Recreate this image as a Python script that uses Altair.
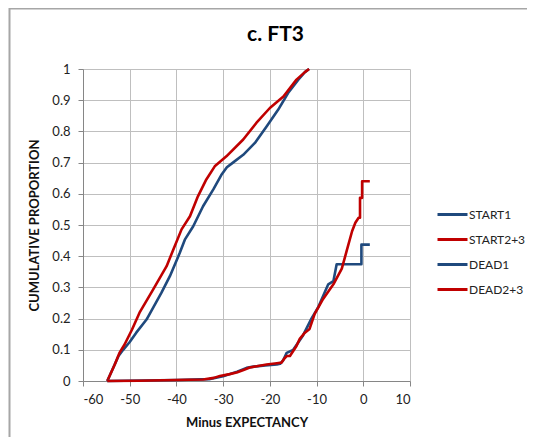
import altair as alt
import pandas as pd

# ---- data ----
start1_x = [-54.8, -53.6, -52.4, -51.4, -50.0, -48.6, -46.4, -43.2, -41.4, -39.3, -38.2, -36.4,
            -34.3, -32.1, -30.4, -29.2, -27.9, -25.7, -23.2, -20.7, -18.2, -16.1, -13.9, -12.5, -11.6]
start1_y = [0.0, 0.04, 0.08, 0.10, 0.125, 0.155, 0.197, 0.283, 0.336, 0.41, 0.453, 0.496,
            0.56, 0.614, 0.66, 0.685, 0.70, 0.725, 0.763, 0.816, 0.87, 0.923, 0.966, 0.99, 1.0]

start23_x = [-54.8, -53.2, -52.2, -51.1, -49.5, -47.9, -45.0, -42.1, -40.7, -38.9, -37.1, -35.4,
             -33.6, -31.8, -29.3, -25.7, -22.9, -20.0, -17.1, -14.3, -12.5, -11.6]
start23_y = [0.0, 0.053, 0.09, 0.117, 0.165, 0.219, 0.293, 0.368, 0.42, 0.486, 0.528, 0.592,
             0.646, 0.688, 0.72, 0.774, 0.827, 0.875, 0.912, 0.966, 0.99, 1.0]

dead1_x = [-54.8, -40.0, -33.0, -30.0, -27.0, -25.0, -23.5, -21.0, -18.5, -17.8, -17.2, -16.4,
           -15.0, -12.9, -11.1, -9.7, -7.5, -6.4, -5.7, -0.4, -0.4, 1.4]
dead1_y = [0.0, 0.003, 0.006, 0.015, 0.03, 0.042, 0.046, 0.05, 0.053, 0.055, 0.065, 0.09,
           0.10, 0.146, 0.20, 0.235, 0.31, 0.32, 0.374, 0.374, 0.437, 0.437]

dead23_x = [-54.8, -48.0, -40.0, -34.3, -32.0, -30.7, -28.6, -27.1, -25.5, -24.3, -22.5, -20.7,
            -18.5, -17.5, -17.0, -16.4, -15.7, -14.3, -13.6, -12.5, -11.5, -10.4, -8.6, -6.4,
            -4.6, -3.5, -2.4, -1.7, -1.0, -0.7, -0.7, -0.25, -0.25, 1.4]
dead23_y = [0.0, 0.001, 0.003, 0.005, 0.010, 0.016, 0.022, 0.027, 0.036, 0.043, 0.048, 0.053,
            0.057, 0.059, 0.07, 0.08, 0.08, 0.112, 0.135, 0.155, 0.167, 0.215, 0.263, 0.31,
            0.36, 0.42, 0.48, 0.507, 0.523, 0.523, 0.587, 0.587, 0.64, 0.64]

series_names = ["START1", "START2+3", "DEAD1", "DEAD2+3"]
series_colors = ["#1F497D", "#C00000", "#1F497D", "#C00000"]
x_ticks = [-60, -50, -40, -30, -20, -10, 0, 10]
y_ticks = [0, 0.1, 0.2, 0.3, 0.4, 0.5, 0.6, 0.7, 0.8, 0.9, 1]

rows = []
for k, (name, xs, ys) in enumerate(zip(series_names,
                                       [start1_x, start23_x, dead1_x, dead23_x],
                                       [start1_y, start23_y, dead1_y, dead23_y])):
    for i, (xv, yv) in enumerate(zip(xs, ys)):
        rows.append({"series": name, "x": xv, "y": yv, "i": i, "k": k})
df = pd.DataFrame(rows)

FONT = "Lato"

lines = alt.Chart(df).mark_line(strokeWidth=2.6, strokeJoin="round").encode(
    x=alt.X("x:Q", scale=alt.Scale(domain=[-60, 10], nice=False),
            axis=alt.Axis(values=x_ticks, title="Minus EXPECTANCY",
                          labelExpr="toString(datum.value)")),
    y=alt.Y("y:Q", scale=alt.Scale(domain=[0, 1], nice=False),
            axis=alt.Axis(values=y_ticks, title="CUMULATIVE PROPORTION",
                          labelExpr="datum.value == 0 ? '0' : datum.value == 1 ? '1' : format(datum.value, '.1f')")),
    color=alt.Color("series:N", sort=series_names,
                    scale=alt.Scale(domain=series_names, range=series_colors),
                    legend=alt.Legend(title=None, orient="none", legendX=358, legendY=134,
                                      symbolType="M-1.5,0H1.5", symbolSize=400,
                                      symbolStrokeWidth=3, labelFontSize=12, labelFont=FONT,
                                      labelColor="#222222", labelOffset=5, rowPadding=7,
                                      labelLimit=200)),
    detail="series:N",
    order="i:Q",
)

border = alt.Chart(pd.DataFrame({"a": [0]})).mark_rect(
    fill=None, stroke="#A6A6A6", strokeWidth=2
).encode(x=alt.value(-73.5), x2=alt.value(700), y=alt.value(-60.5), y2=alt.value(700))

chart = alt.layer(border, lines).properties(
    width=327, height=312,
    autosize=alt.AutoSizeParams(type="none"),
    padding={"left": 75, "top": 61, "right": 117, "bottom": 56},
    title=alt.TitleParams("c. FT3", font=FONT, fontSize=21, fontWeight="bold",
                          color="#000000", anchor="middle", dx=29, offset=-54.5,
                          baseline="alphabetic"),
).configure_view(stroke=None).configure_axis(
    labelFont=FONT, labelFontSize=13, labelColor="#222222",
    titleFont=FONT, titleFontSize=13, titleFontWeight="bold", titleColor="#111111",
    gridColor="#BFBFBF", gridWidth=1, domainColor="#868686", tickColor="#868686",
    tickSize=5, labelPadding=7,
).configure_axisX(titlePadding=10).configure_axisY(titlePadding=10, labelPadding=8)

chart.save("out.html", embed_options={"renderer": "svg", "actions": False})
